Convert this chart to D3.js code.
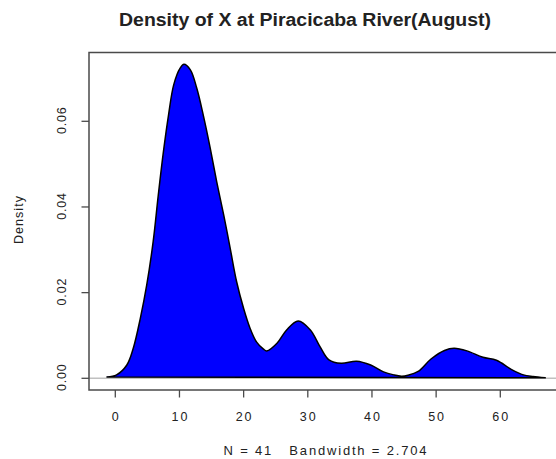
<!DOCTYPE html>
<html>
<head>
<meta charset="utf-8">
<script src="https://cdn.jsdelivr.net/npm/d3@7"></script>
<style>
  html, body { margin: 0; padding: 0; background: #ffffff; }
  svg { display: block; font-family: "Liberation Sans", Arial, sans-serif; }
  text { white-space: pre; }
</style>
</head>
<body>
<svg id="chart" width="556" height="459"></svg>
<script>
// ---- data ----
const densX = [-1.3, 0.2, 1.8, 2.8, 3.9, 4.9, 5.9, 6.7, 7.5, 8.3, 9.1, 10.1, 10.7, 11.7, 12.7, 13.7, 14.8, 15.8, 16.9, 17.9, 18.9, 20.0, 21.0, 22.0, 23.1, 23.6, 25.2, 26.7, 28.5, 30.4, 31.9, 33.3, 35.2, 37.6, 39.8, 41.8, 43.4, 44.6, 45.6, 47.2, 49.2, 51.3, 52.8, 54.8, 57.3, 59.4, 61.7, 63.6, 65.1, 67.0];
const densY = [0.0003, 0.0008, 0.0031, 0.0070, 0.0140, 0.0218, 0.0319, 0.0428, 0.0529, 0.0615, 0.0685, 0.0724, 0.0733, 0.0720, 0.0677, 0.0615, 0.0537, 0.0459, 0.0381, 0.0304, 0.0226, 0.0163, 0.0117, 0.0085, 0.0068, 0.0064, 0.0082, 0.0113, 0.0134, 0.0113, 0.0074, 0.0043, 0.0035, 0.0040, 0.0031, 0.0015, 0.0008, 0.0005, 0.0007, 0.0016, 0.0045, 0.0065, 0.0070, 0.0064, 0.0049, 0.0042, 0.0021, 0.0008, 0.0004, 0.0001];
const xTicks = [0, 10, 20, 30, 40, 50, 60];
const yTicks = [0.00, 0.02, 0.04, 0.06];
const yTickLabels = ["0.00", "0.02", "0.04", "0.06"];
const titleText = "Density of X at Piracicaba River(August)";
const subText = "N = 41   Bandwidth = 2.704";
const yLabelText = "Density";

// ---- layout ----
const box = { left: 89, top: 52.5, right: 558, bottom: 390 };
const x = d3.scaleLinear().domain([0, 60]).range([115.3, 500.3]);
const y = d3.scaleLinear().domain([0, 0.06]).range([378.3, 121.3]);

const svg = d3.select("#chart");
const ink = "#222";
const axisCol = "#4a4a4a";

// zero line
svg.append("line")
  .attr("x1", box.left).attr("x2", box.right)
  .attr("y1", y(0)).attr("y2", y(0))
  .attr("stroke", "#c0c0c0").attr("stroke-width", 1.5);

// density polygon
const pts = densX.map((d, i) => [d, densY[i]]);
const line = d3.line().x(d => x(d[0])).y(d => y(d[1])).curve(d3.curveCatmullRom.alpha(0.5));
svg.append("path")
  .attr("d", line(pts) + "Z")
  .attr("fill", "#0000ff")
  .attr("stroke", "#000")
  .attr("stroke-width", 1.5)
  .attr("stroke-linejoin", "round");

// box
svg.append("rect")
  .attr("x", box.left).attr("y", box.top)
  .attr("width", box.right - box.left).attr("height", box.bottom - box.top)
  .attr("fill", "none").attr("stroke", axisCol).attr("stroke-width", 1.5);

// x axis ticks
const gx = svg.append("g");
xTicks.forEach(t => {
  gx.append("line")
    .attr("x1", x(t)).attr("x2", x(t))
    .attr("y1", box.bottom).attr("y2", box.bottom + 7.5)
    .attr("stroke", axisCol).attr("stroke-width", 1.3);
  gx.append("text")
    .attr("x", x(t) + 1).attr("y", 420.5)
    .attr("text-anchor", "middle")
    .attr("font-size", 12.5)
    .attr("letter-spacing", 2)
    .attr("fill", ink)
    .text(String(t));
});

// y axis ticks
const gy = svg.append("g");
yTicks.forEach((t, i) => {
  gy.append("line")
    .attr("x1", box.left - 7.5).attr("x2", box.left)
    .attr("y1", y(t)).attr("y2", y(t))
    .attr("stroke", axisCol).attr("stroke-width", 1.3);
  gy.append("text")
    .attr("transform", `translate(65.5,${y(t) - 1}) rotate(-90)`)
    .attr("text-anchor", "middle")
    .attr("font-size", 12.5)
    .attr("letter-spacing", 0.8)
    .attr("fill", ink)
    .text(yTickLabels[i]);
});

// title
svg.append("text")
  .attr("x", 305).attr("y", 25.5)
  .attr("text-anchor", "middle")
  .attr("font-size", 18)
  .attr("font-weight", "bold")
  .attr("fill", ink)
  .attr("textLength", 372).attr("lengthAdjust", "spacingAndGlyphs")
  .text(titleText);

// subtitle
svg.append("text")
  .attr("x", 325).attr("y", 455)
  .attr("text-anchor", "middle")
  .attr("font-size", 13)
  .attr("fill", ink)
  .attr("textLength", 203).attr("lengthAdjust", "spacing")
  .text(subText);

// y label
svg.append("text")
  .attr("transform", `translate(22.5,220) rotate(-90)`)
  .attr("text-anchor", "middle")
  .attr("font-size", 12.5)
  .attr("fill", ink)
  .attr("textLength", 48).attr("lengthAdjust", "spacing")
  .text(yLabelText);
</script>
</body>
</html>
